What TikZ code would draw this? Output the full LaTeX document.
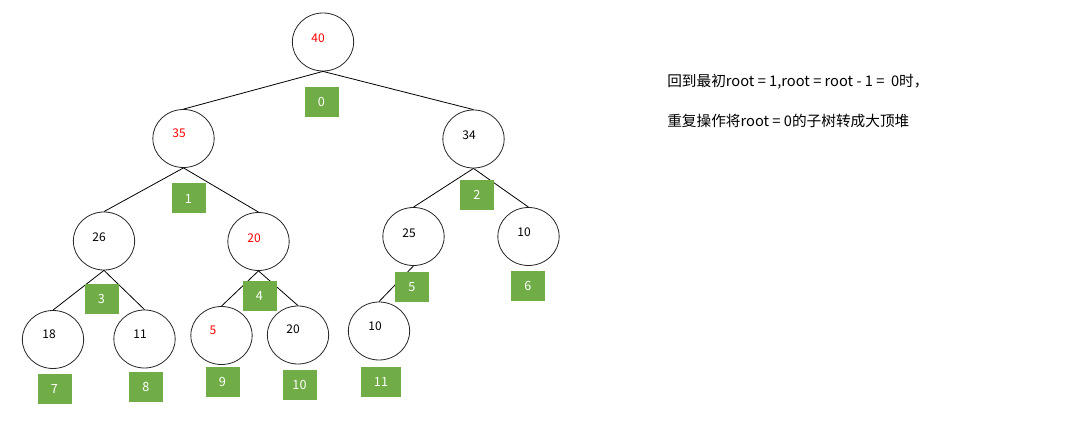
\documentclass[tikz,border=0pt]{standalone}
\usepackage{fontspec}
\usetikzlibrary{shapes.geometric}
\setmainfont{Noto Sans CJK SC}
\definecolor{boxgreen}{HTML}{70AD47}
\definecolor{hired}{HTML}{FF0000}
\begin{document}
\begin{tikzpicture}[x=0.75pt,y=-0.75pt,
  heapnode/.style={draw=black!85,line width=0.6pt,ellipse,minimum width=46pt,minimum height=43.5pt,inner sep=0pt},
  idxbox/.style={fill=boxgreen,text=white,minimum width=25.5pt,minimum height=22.5pt,inner sep=0pt,font=\fontsize{9.5pt}{11pt}\selectfont},
  val/.style={font=\fontsize{9pt}{11pt}\selectfont},
  edge/.style={draw=black,line width=0.6pt},
  note/.style={anchor=west,inner sep=0pt,font=\fontsize{11pt}{13pt}\selectfont}]
\useasboundingbox (0,0) rectangle (1068,431);
% nodes
\node[heapnode] (n0) at (323,42) {};
\node[heapnode] (n1) at (183.5,138.5) {};
\node[heapnode] (n2) at (473.5,139) {};
\node[heapnode] (n3) at (104,241) {};
\node[heapnode] (n4) at (258.5,241.5) {};
\node[heapnode] (n5) at (413.5,236.5) {};
\node[heapnode] (n6) at (528.5,236.5) {};
\node[heapnode] (n7) at (53,339.5) {};
\node[heapnode] (n8) at (144.5,339) {};
\node[heapnode] (n9) at (221.5,335.5) {};
\node[heapnode] (n10) at (298,335) {};
\node[heapnode] (n11) at (379,331) {};
% values
\node[val,text=hired] (v0) at (318,38) {40};
\node[val,text=hired] (v1) at (179,133) {35};
\node[val] (v2) at (469,135) {34};
\node[val] (v3) at (99,237) {26};
\node[val,text=hired] (v4) at (254,238) {20};
\node[val] (v5) at (409,233) {25};
\node[val] (v6) at (524,232) {10};
\node[val] (v7) at (49,334) {18};
\node[val] (v8) at (140,334) {11};
\node[val,text=hired] (v9) at (213,330) {5};
\node[val] (v10) at (293,329) {20};
\node[val] (v11) at (375,326) {10};
% edges
\draw[edge] (n0.south) -- (n1.north);
\draw[edge] (n0.south) -- (n2.north);
\draw[edge] (n1.south) -- (n3.north);
\draw[edge] (n1.south) -- (n4.north);
\draw[edge] (n2.south) -- (n5.north);
\draw[edge] (n2.south) -- (n6.north);
\draw[edge] (n3.south) -- (n7.north);
\draw[edge] (n3.south) -- (n8.north);
\draw[edge] (n4.south) -- (n9.north);
\draw[edge] (n4.south) -- (n10.north);
\draw[edge] (n5.south) -- (n11.north);
% index boxes
\node[idxbox] (b0) at (321.5,102) {0};
\node[idxbox] (b1) at (188.5,198.5) {1};
\node[idxbox] (b2) at (477,195) {2};
\node[idxbox] (b3) at (101.5,298.5) {3};
\node[idxbox] (b4) at (259.5,296) {4};
\node[idxbox] (b5) at (412,287) {5};
\node[idxbox] (b6) at (528,286) {6};
\node[idxbox] (b7) at (54.5,389) {7};
\node[idxbox] (b8) at (146,386.5) {8};
\node[idxbox] (b9) at (222.5,382) {9};
\node[idxbox] (b10) at (299.5,384.5) {10};
\node[idxbox,minimum width=30pt] (b11) at (381,381.5) {11};
% note
\node[note] (t1) at (667,82) {回到最初root = 1,root = root - 1 =\ \ 0时，};
\node[note] (t2) at (667,121) {重复操作将root = 0的子树转成大顶堆};
\end{tikzpicture}
\end{document}
